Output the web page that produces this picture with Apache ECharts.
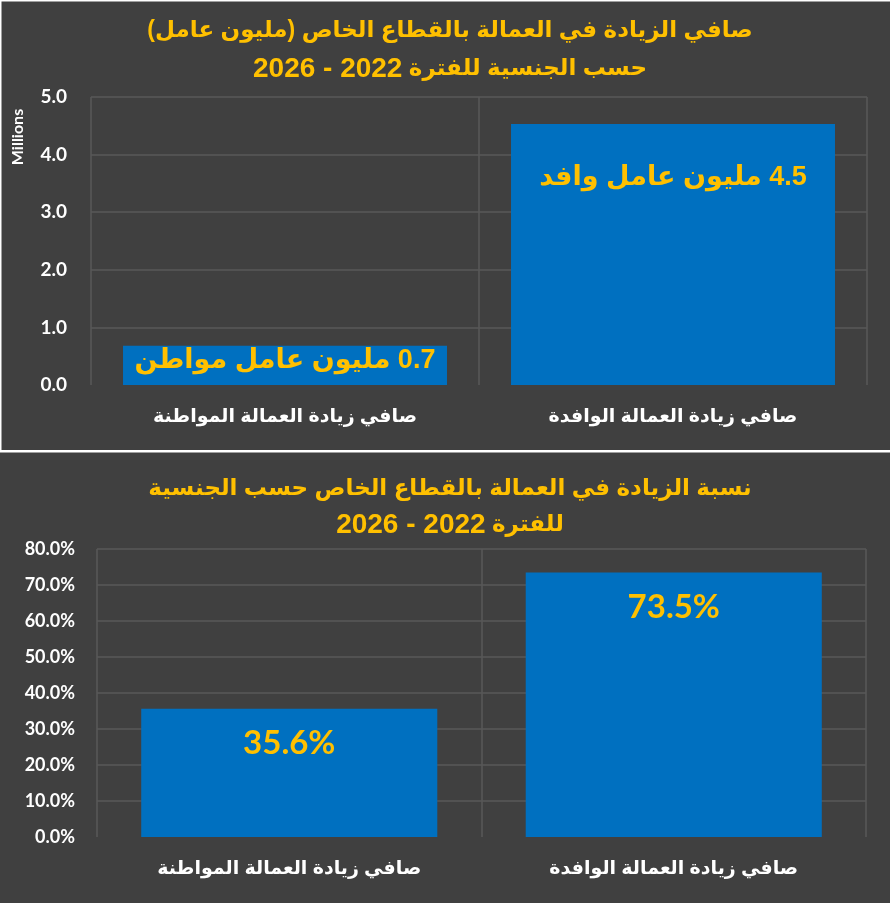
<!DOCTYPE html>
<html dir="rtl">
<head>
    <meta charset="utf-8">
    <script src="https://cdn.jsdelivr.net/npm/echarts@6/dist/echarts.min.js"></script>
    <style>
        html, body { margin: 0; padding: 0; background: #404040; }
        #main { position: absolute; top: 0; left: 0; width: 890px; height: 903px; }
    </style>
</head>
<body>
<div id="main"></div>
<script type="text/javascript">
    // chart 1: net increase (millions)
    var categories = ['صافي زيادة العمالة المواطنة', 'صافي زيادة العمالة الوافدة'];
    var workerType = ['مواطن', 'وافد'];
    var netIncrease = [0.68, 4.53];
    // chart 2: increase share
    var shareIncrease = [0.356, 0.735];

    var period = '2022 - 2026';
    var title1a = 'صافي الزيادة في العمالة بالقطاع الخاص (مليون عامل)';
    var title1b = 'حسب الجنسية للفترة ';
    var title2a = 'نسبة الزيادة في العمالة بالقطاع الخاص حسب الجنسية';
    var title2b = 'للفترة ';

    var yellow = '#FFC000';
    var gridColor = '#595959';
    var bg = '#404040';
    var fontAr = 'Arial, "DejaVu Sans", sans-serif';
    var fontNum = 'Lato, "Open Sans", sans-serif';

    var myChart = echarts.init(document.getElementById('main'));

    // hide the zero line like in the original
    function splitColors(n) {
        var c = [bg];
        for (var i = 1; i < n; i++) c.push(gridColor);
        return c;
    }

    function catAxis(idx) {
        return {
            type: 'category',
            gridIndex: idx,
            data: categories,
            axisLine: {show: false},
            axisTick: {show: false},
            splitLine: {show: true, lineStyle: {color: gridColor, width: 1.5}},
            axisLabel: {color: '#fff', fontWeight: 'bold', fontSize: 19, fontFamily: fontAr, margin: 22}
        };
    }

    function titleRich(lh) {
        return {
            a: {color: yellow, fontSize: 23, fontWeight: 'bold', fontFamily: fontAr, lineHeight: lh},
            n: {color: yellow, fontSize: 28, fontWeight: 'bold', fontFamily: 'Arial, "Liberation Sans"', lineHeight: lh}
        };
    }

    var topData = netIncrease.map(function (v, i) {
        return {
            value: v,
            label: i === 0 ? {position: 'inside', offset: [0, -5]} : {position: 'insideTop', distance: 40}
        };
    });

    myChart.setOption({
        backgroundColor: bg,
        animation: false,
        title: [{
            // tokens in visual order (canvas is rtl)
            text: '{a|' + title1a + '}\n{n|' + period + '}{a|' + title1b + '}',
            left: '50%',
            textAlign: 'center',
            top: 7,
            textStyle: {rich: titleRich(38)}
        }, {
            text: '{a|' + title2a + '}\n{n|' + period + '}{a|' + title2b + '}',
            left: '50%',
            textAlign: 'center',
            top: 466,
            textStyle: {rich: titleRich(36)}
        }],
        grid: [
            {left: 91, right: 23, top: 97, height: 288},
            {left: 97, right: 24, top: 549, height: 288}
        ],
        xAxis: [catAxis(0), catAxis(1)],
        yAxis: [{
            type: 'value',
            gridIndex: 0,
            min: 0, max: 5, interval: 1,
            axisLine: {show: false},
            axisTick: {show: false},
            splitLine: {lineStyle: {color: splitColors(6), width: 1.5}},
            axisLabel: {
                color: '#fff', fontWeight: 'bold', fontSize: 19, fontFamily: fontNum, margin: 24,
                formatter: function (v) { return v.toFixed(1); }
            }
        }, {
            type: 'value',
            gridIndex: 1,
            min: 0, max: 0.8, interval: 0.1,
            axisLine: {show: false},
            axisTick: {show: false},
            splitLine: {lineStyle: {color: splitColors(9), width: 1.5}},
            axisLabel: {
                color: '#fff', fontWeight: 'bold', fontSize: 18, fontFamily: fontNum, margin: 22,
                formatter: function (v) { return (v * 100).toFixed(1) + '%'; }
            }
        }],
        series: [{
            type: 'bar',
            xAxisIndex: 0,
            yAxisIndex: 0,
            data: topData,
            barWidth: '83.5%',
            itemStyle: {color: '#0070C0'},
            label: {
                show: true,
                color: yellow,
                fontSize: 27,
                fontWeight: 'bold',
                fontFamily: fontAr,
                formatter: function (p) {
                    return p.value.toFixed(1) + ' مليون عامل ' + workerType[p.dataIndex];
                }
            }
        }, {
            type: 'bar',
            xAxisIndex: 1,
            yAxisIndex: 1,
            data: shareIncrease,
            barWidth: '77%',
            itemStyle: {color: '#0070C0'},
            label: {
                show: true,
                position: 'insideTop',
                distance: 18,
                color: yellow,
                fontSize: 33,
                fontWeight: 'bold',
                fontFamily: fontNum,
                formatter: function (p) { return (p.value * 100).toFixed(1) + '%'; }
            }
        }],
        graphic: [
            {type: 'rect', shape: {x: 0, y: 0, width: 890, height: 1.5}, style: {fill: '#fff'}},
            {type: 'rect', shape: {x: 0, y: 0, width: 1.5, height: 451}, style: {fill: '#fff'}},
            {type: 'rect', shape: {x: 0, y: 450, width: 890, height: 2.5}, style: {fill: '#fff'}},
            {
                type: 'text',
                x: 18, y: 137,
                rotation: Math.PI / 2,
                style: {
                    text: 'Millions', fill: '#fff', font: 'bold 16px ' + fontNum,
                    align: 'center', verticalAlign: 'middle'
                }
            }
        ]
    });
</script>
</body>
</html>
